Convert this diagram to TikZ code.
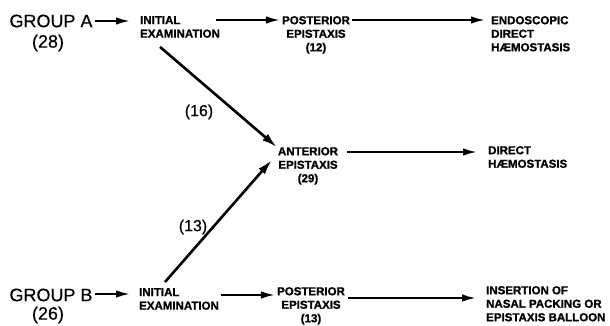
\documentclass[tikz,border=0pt]{standalone}
\usepackage{fontspec}
\setmainfont{Liberation Sans}
\newfontfamily\heavyfont[FakeBold=1.2]{Liberation Sans Bold}
\newfontfamily\plainfont[FakeBold=0.4]{Liberation Sans}
\usetikzlibrary{arrows.meta,calc}

\begin{document}
\begin{tikzpicture}[x=1pt,y=-1pt,
  lbl/.style={font=\heavyfont\fontsize{11.5}{13.5}\selectfont, inner sep=0pt, align=left},
  lblc/.style={lbl, align=center},
  grp/.style={font=\plainfont\fontsize{18}{20}\selectfont, inner sep=0pt},
  cnt/.style={font=\plainfont\fontsize{16}{18}\selectfont, inner sep=0pt},
  arr/.style={line width=2pt, -{Latex[length=14pt,width=7.5pt]}},
  diag/.style={line width=2.6pt, -{Latex[length=15pt,width=8.5pt]}},
]
\useasboundingbox (0,0) rectangle (610,325);

% group headers and counts
\node[grp] (gA) at (51,21) {GROUP A};
\node[grp] (nA) at (48,43) {(28)};
\node[grp] (gB) at (51,295) {GROUP B};
\node[grp] (nB) at (48,315) {(26)};

% stages
\node[lbl,anchor=north west] (iA) at (140,16) {INITIAL\\EXAMINATION};
\node[lblc,anchor=north] (pA) at (316,16) {POSTERIOR\\EPISTAXIS\\(12)};
\node[lbl,anchor=north west] (eA) at (491,16) {ENDOSCOPIC\\DIRECT\\HÆMOSTASIS};
\node[lblc,anchor=north] (an) at (308,147) {ANTERIOR\\EPISTAXIS\\(29)};
\node[lbl,anchor=north west] (dh) at (488,146) {DIRECT\\HÆMOSTASIS};
\node[lbl,anchor=north west] (iB) at (139,288) {INITIAL\\EXAMINATION};
\node[lblc,anchor=north] (pB) at (311,287) {POSTERIOR\\EPISTAXIS\\(13)};
\node[lbl,anchor=north west] (inB) at (486,286) {INSERTION OF\\NASAL PACKING OR\\EPISTAXIS BALLOON};

% branch counts
\node[cnt] (c16) at (199,112) {(16)};
\node[cnt] (c13) at (193,227) {(13)};

% group A path
\draw[arr] ($(gA.east)+(2,0)$) -- ($(iA.west |- gA.east)+(-10,0)$);
\draw[arr] ($(iA.north east)+(-4,4)$) -- ($(pA.west |- iA.north)+(-2,4)$);
\draw[arr] ($(pA.north east)+(2,4)$) -- ($(eA.west |- pA.north)+(-6,4)$);
\draw[diag] ($(iA.south west)+(20,9)$) -- ($(an.north west)+(-1,0)$);

% anterior branch
\draw[arr] ($(an.north east)+(9,5)$) -- ($(dh.west |- an.north)+(-11,5)$);

% group B path
\draw[diag] ($(iB.north west)+(26,-6)$) -- ($(an.north west)+(-6,13)$);
\draw[arr] ($(gB.east)+(2,-1)$) -- ($(iB.west |- gB.east)+(-9,-1)$);
\draw[arr] ($(iB.north east)+(2,7)$) -- ($(pB.west |- iB.north)+(-2,7)$);
\draw[arr] ($(pB.north east)+(3,11)$) -- ($(inB.west |- pB.north)+(-10,11)$);
\end{tikzpicture}
\end{document}
